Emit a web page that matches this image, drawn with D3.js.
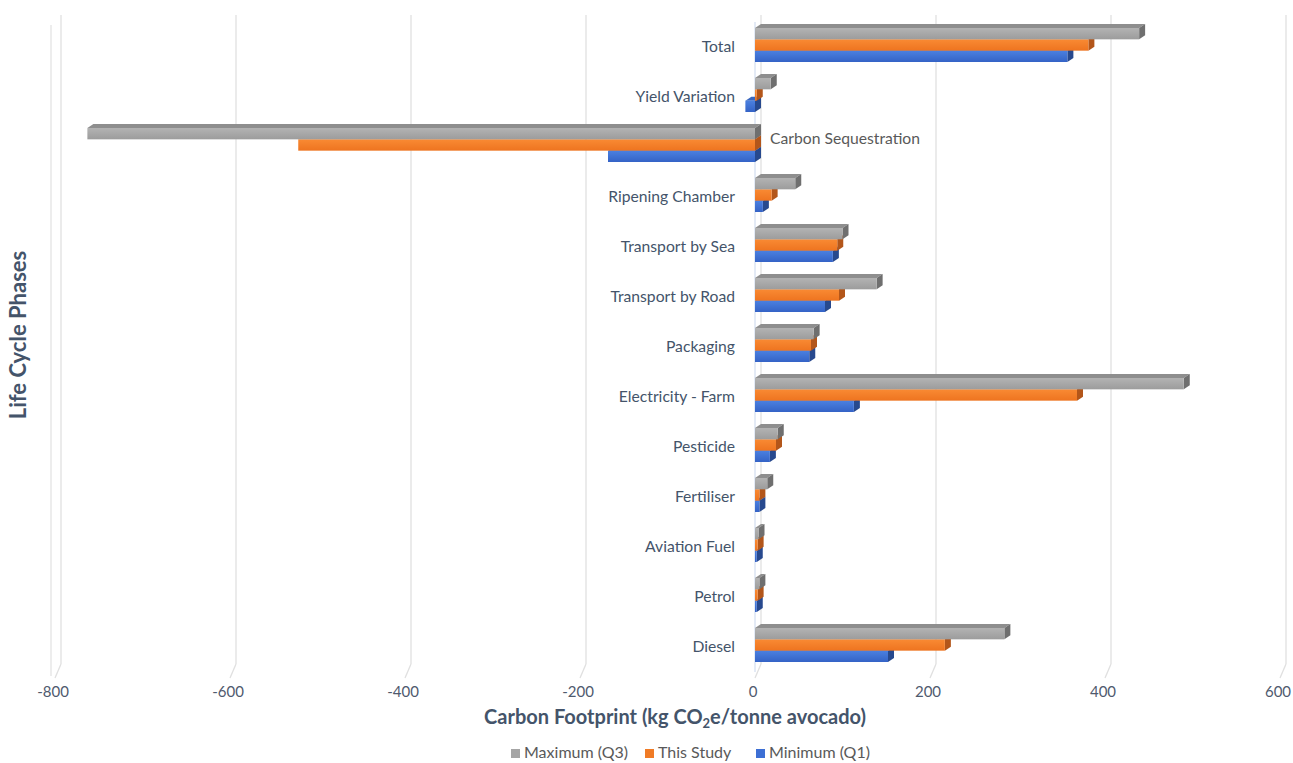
<!DOCTYPE html>
<html>
<head>
<meta charset="utf-8">
<script src="https://cdn.jsdelivr.net/npm/d3@7"></script>
<style>
  html, body { margin: 0; padding: 0; background: #ffffff; }
  svg { display: block; }
  text { font-family: Lato, "Open Sans", sans-serif; }
</style>
</head>
<body>
<svg id="chart" width="1293" height="763"></svg>
<script>
// Life cycle phases, top to bottom
const categories = [
  "Total", "Yield Variation", "Carbon Sequestration", "Ripening Chamber",
  "Transport by Sea", "Transport by Road", "Packaging", "Electricity - Farm",
  "Pesticide", "Fertiliser", "Aviation Fuel", "Petrol", "Diesel"
];

// kg CO2e per tonne of avocado
const maximumQ3 = [439, 18, -763, 46, 100, 139, 67, 490, 26, 14, 4, 5, 285];
const thisStudy = [381, 2, -522, 19, 94, 96, 64, 368, 24, 5, 3, 3, 217];
const minimumQ1 = [357, -11, -168, 9, 89, 80, 62, 113, 17, 5, 2, 2, 152];

const seriesNames = ["Maximum (Q3)", "This Study", "Minimum (Q1)"];
const xTicks = [-800, -600, -400, -200, 0, 200, 400, 600];

const series = [
  { name: seriesNames[0], values: maximumQ3, front: ["#b3b3b3", "#9c9c9c"], top: "#8e8e8e", side: "#6f6f6f", key: "#a5a5a5" },
  { name: seriesNames[1], values: thisStudy, front: ["#f98a33", "#ee7420"], top: "#d9661a", side: "#b3561a", key: "#f07b26" },
  { name: seriesNames[2], values: minimumQ1, front: ["#4b80e0", "#3463c6"], top: "#3a67bf", side: "#27498e", key: "#3d6fd4" }
];

const svg = d3.select("#chart");
const defs = svg.append("defs");

// depth of the 3D extrusion
const DX = 6, DY = -4;

const x = d3.scaleLinear().domain([-800, 600]).range([55, 1280]);
const y = d3.scaleBand().domain(categories).range([22, 672]).paddingInner(0).paddingOuter(0);
const inner = d3.scaleBand().domain(seriesNames).range([-19, 15]).padding(0);

const textCol = "#44546a";

// back-wall gridlines with floor segments
const grid = svg.append("g");
const backTop = 15, backBottom = 664;
grid.selectAll("line.g").data(xTicks).join("line")
  .attr("x1", d => x(d) + DX).attr("x2", d => x(d) + DX)
  .attr("y1", backTop).attr("y2", backBottom)
  .attr("stroke", "#e0e0e0").attr("stroke-width", 1.3);
grid.selectAll("line.f").data(xTicks).join("line")
  .attr("x1", d => x(d) + DX).attr("x2", d => x(d))
  .attr("y1", backBottom).attr("y2", backBottom + 14)
  .attr("stroke", "#e0e0e0").attr("stroke-width", 1.3);
// left wall edge
grid.append("line")
  .attr("x1", x(-800) - 4).attr("x2", x(-800) - 4)
  .attr("y1", 25).attr("y2", 676)
  .attr("stroke", "#e4e4e4").attr("stroke-width", 1.3);

// gradients for bar fronts
series.forEach((s, i) => {
  const g = defs.append("linearGradient").attr("id", "grad" + i)
    .attr("x1", 0).attr("y1", 0).attr("x2", 0).attr("y2", 1);
  g.append("stop").attr("offset", "0%").attr("stop-color", s.front[0]);
  g.append("stop").attr("offset", "100%").attr("stop-color", s.front[1]);
});

// category axis line
svg.append("line")
  .attr("x1", x(0)).attr("x2", x(0))
  .attr("y1", y.range()[0]).attr("y2", y.range()[1])
  .attr("stroke", "#c9d6ec").attr("stroke-width", 1);

// bars, drawn bottom series first so upper bars cover lower top faces
const bars = svg.append("g");
const h = inner.bandwidth();
[2, 1, 0].forEach(si => {
  const s = series[si];
  categories.forEach((c, ci) => {
    const v = s.values[ci];
    const yc = y(c) + y.bandwidth() / 2;
    const y0 = yc + inner(s.name);
    const xa = Math.min(x(0), x(v));
    const xb = Math.max(x(0), x(v));
    const g = bars.append("g");
    // top face
    g.append("path")
      .attr("d", `M${xa},${y0} L${xa + DX},${y0 + DY} L${xb + DX},${y0 + DY} L${xb},${y0} Z`)
      .attr("fill", s.top);
    // right end face
    g.append("path")
      .attr("d", `M${xb},${y0} L${xb + DX},${y0 + DY} L${xb + DX},${y0 + h + DY} L${xb},${y0 + h} Z`)
      .attr("fill", s.side);
    // front face
    g.append("rect")
      .attr("x", xa).attr("y", y0)
      .attr("width", Math.max(0.5, xb - xa)).attr("height", h)
      .attr("fill", `url(#grad${si})`);
  });
});

// category labels
svg.append("g").selectAll("text").data(categories).join("text")
  .attr("x", d => d === "Carbon Sequestration" ? 770 : 735)
  .attr("y", d => y(d) + y.bandwidth() / 2 + (d === "Carbon Sequestration" ? -7 : 1))
  .attr("text-anchor", d => d === "Carbon Sequestration" ? "start" : "end")
  .attr("dominant-baseline", "middle")
  .attr("font-size", 15.7)
  .attr("fill", d => d === "Carbon Sequestration" ? "#595959" : textCol)
  .text(d => d);

// value axis tick labels
svg.append("g").selectAll("text").data(xTicks).join("text")
  .attr("x", d => x(d) - 2)
  .attr("y", 697)
  .attr("text-anchor", "middle")
  .attr("font-size", 15)
  .attr("fill", "#4f5a6e")
  .text(d => d);

// axis titles
const xt = svg.append("text")
  .attr("x", 675).attr("y", 724)
  .attr("text-anchor", "middle")
  .attr("font-size", 20).attr("font-weight", "bold")
  .attr("fill", textCol);
xt.append("tspan").text("Carbon Footprint (kg CO");
xt.append("tspan").attr("font-size", 13).attr("dy", 4).text("2");
xt.append("tspan").attr("dy", -4).text("e/tonne avocado)");

svg.append("text")
  .attr("transform", "translate(26,335) rotate(-90)")
  .attr("text-anchor", "middle")
  .attr("font-size", 22).attr("font-weight", "bold")
  .attr("fill", textCol)
  .text("Life Cycle Phases");

// legend
const legendX = [511, 645, 756];
const leg = svg.append("g");
series.forEach((s, i) => {
  leg.append("rect")
    .attr("x", legendX[i]).attr("y", 749).attr("width", 9).attr("height", 9)
    .attr("fill", s.key);
  leg.append("text")
    .attr("x", legendX[i] + 13).attr("y", 754)
    .attr("dominant-baseline", "middle")
    .attr("font-size", 16).attr("fill", "#595959")
    .text(s.name);
});
</script>
</body>
</html>
